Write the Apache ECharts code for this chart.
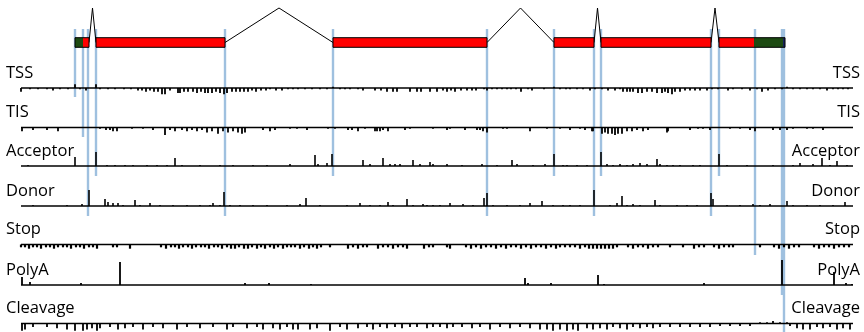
<!DOCTYPE html>
<html><head><meta charset="utf-8">
<script src="https://cdn.jsdelivr.net/npm/echarts@6/dist/echarts.min.js"></script>
<style>html,body{margin:0;padding:0;background:#fff}#c{width:864px;height:332px}</style>
</head><body><div id="c"></div>
<script>
// ---------------- DATA ----------------
const trackNames = ['TSS','TIS','Acceptor','Donor','Stop','PolyA','Cleavage'];
// gene model (genomic position units)
const exons = [[54,68],[75,204],[312,466],[533,573],[580,690],[698,764]];
const cdsRange = [62, 733];
const tailRange = [762, 764];
// predicted features: position and track
const featurePos   = [54, 62, 67, 75, 204, 312, 466, 533, 573, 580, 690, 698, 734, 761, 763];
const featureTrack = ['TSS','TIS','Donor','Acceptor','Donor','Acceptor','Donor','Acceptor','Donor','Acceptor','Donor','Acceptor','Stop','PolyA','Cleavage'];

// signal scores [position, score]
const tssSignal = [[0,-3],[9,-1],[17,-1],[26,-1],[32,-2],[39,-1],[47,-1],[54,3],[59,-1],[65,-2],[75,3],[79,-1],[87,-1],[94,-1],[103,-1],[110,-1],[117,-2],[121,-2],[125,-3],[129,-2],[133,-3],[137,-3],[141,-5],[144,-5],[149,-2],[157,-4],[159,-4],[163,-3],[167,-3],[172,-3],[176,-4],[180,-3],[184,-4],[187,-4],[191,-4],[195,-3],[199,-4],[203,-5],[206,-4],[211,-3],[215,-3],[219,-3],[223,-3],[227,-3],[231,-2],[235,-3],[240,-2],[245,-2],[249,-1],[255,-2],[261,-2],[267,-1],[272,-1],[277,-1],[284,-1],[291,-1],[299,-1],[306,-1],[312,1],[319,-1],[324,-1],[329,-1],[337,-1],[342,-2],[354,-2],[360,-2],[366,-3],[372,-3],[376,-3],[389,-3],[396,-3],[400,-3],[409,-3],[416,-3],[422,-2],[426,-3],[430,-2],[434,-3],[440,-2],[446,-2],[451,-2],[455,-2],[463,-1],[466,-2],[471,-1],[476,-1],[481,-1],[486,-1],[490,-1],[495,-1],[500,-3],[507,-1],[511,-2],[523,-1],[533,1],[539,-1],[545,-1],[549,-1],[556,-1],[562,-1],[569,-2],[574,-1],[581,-1],[587,-2],[594,-2],[599,-1],[602,-3],[606,-3],[609,-3],[612,-3],[617,-4],[621,-4],[626,-3],[631,-3],[636,-4],[641,-4],[644,-3],[647,-4],[651,-5],[654,-3],[659,-3],[664,-2],[669,-2],[674,-2],[679,-2],[686,-2],[691,-1],[697,-1],[707,-2],[712,-1],[721,-1],[729,-2],[736,-1],[741,-3],[747,-2],[754,-1],[761,-1],[766,1],[772,-1],[779,-1],[786,-1],[792,-1],[799,-1],[806,-2],[812,-1],[817,-1],[822,-1],[827,-1]];
const tisSignal = [[1,-3],[12,-2],[26,-2],[37,-3],[79,-1],[85,-2],[89,-2],[92,-3],[96,-3],[111,-1],[122,-1],[132,-2],[144,-6],[149,-2],[154,-3],[161,-2],[166,-3],[171,-2],[176,-3],[181,-2],[186,-4],[191,-3],[197,-5],[202,-3],[207,-4],[212,-3],[217,-4],[221,-5],[224,-4],[242,-2],[249,-3],[254,-2],[269,-1],[276,-1],[286,-2],[307,-1],[314,-1],[327,-2],[331,-2],[337,-3],[344,-1],[354,-3],[356,-3],[359,-3],[362,-2],[367,-3],[384,-2],[389,-1],[412,-1],[426,-2],[429,-1],[444,-2],[456,-2],[459,-2],[462,-3],[466,-4],[482,-1],[486,-1],[509,-3],[526,-1],[539,-1],[549,-2],[559,-1],[564,-2],[571,-3],[572,-3],[581,-5],[584,-4],[587,-5],[591,-5],[594,-6],[597,-5],[601,-5],[606,-3],[611,-3],[616,-2],[622,-3],[627,-2],[646,-4],[647,-3],[669,-2],[677,-1],[682,-1],[689,-2],[709,-1],[719,-1],[729,-2],[734,-3],[752,-2],[759,-2],[766,-2],[772,-1],[786,-1],[792,-1],[802,-2]];
const acceptorSignal = [[7,1],[54,9],[75,14],[86,1],[94,1],[104,1],[112,1],[126,1],[136,1],[146,1],[154,8],[161,1],[179,1],[199,1],[212,1],[232,1],[246,1],[269,2],[294,11],[297,2],[306,3],[311,12],[342,6],[349,2],[362,8],[369,2],[374,2],[379,2],[392,6],[399,2],[409,4],[412,2],[426,2],[441,1],[461,2],[476,1],[491,6],[496,2],[512,1],[524,2],[533,12],[542,1],[546,1],[556,1],[566,1],[580,14],[586,2],[592,1],[599,2],[606,1],[612,2],[619,3],[626,2],[636,7],[639,2],[646,1],[652,1],[659,1],[672,1],[679,1],[698,12],[706,1],[726,1],[752,1],[772,1],[779,3],[792,2],[801,8],[809,1],[816,5],[826,1]];
const donorSignal = [[12,1],[46,1],[61,2],[68,16],[84,7],[87,4],[92,3],[97,3],[102,1],[114,6],[119,1],[129,3],[139,1],[152,1],[166,1],[179,1],[189,1],[192,3],[199,1],[203,14],[209,1],[219,1],[232,1],[246,1],[266,1],[279,2],[285,8],[299,1],[326,1],[339,3],[349,1],[359,1],[367,4],[372,1],[386,7],[392,1],[402,2],[406,1],[412,1],[419,1],[429,3],[442,2],[452,1],[463,8],[466,13],[472,1],[486,1],[499,1],[509,3],[521,5],[532,1],[542,1],[549,1],[559,1],[573,16],[589,1],[596,3],[601,10],[606,1],[612,2],[619,1],[634,6],[639,1],[656,1],[666,1],[676,1],[690,13],[692,7],[706,1],[719,1],[732,2],[739,1],[749,2],[766,5],[772,1],[786,1],[799,1],[812,1],[824,4]];
const stopSignal = [[0,-2],[4,-2],[8,-3],[12,-2],[16,-2],[20,-3],[25,-2],[29,-2],[33,-3],[37,-2],[42,-2],[46,-2],[50,-3],[55,-2],[59,-2],[63,-3],[68,-2],[72,-2],[76,-3],[92,-2],[96,-2],[109,-3],[140,-2],[145,-3],[150,-2],[154,-2],[158,-3],[162,-2],[167,-2],[171,-3],[175,-2],[180,-2],[184,-2],[188,-3],[193,-2],[197,-2],[201,-3],[206,-2],[210,-3],[214,-3],[218,-2],[223,-3],[227,-3],[231,-2],[236,-3],[240,-2],[244,-3],[249,-2],[253,-3],[257,-2],[262,-3],[266,-2],[270,-2],[274,-2],[279,-3],[283,-2],[288,-3],[292,-2],[296,-3],[300,-2],[309,-2],[327,-3],[332,-2],[337,-3],[342,-2],[346,-2],[357,-3],[362,-2],[367,-2],[372,-3],[377,-2],[382,-2],[386,-3],[403,-3],[408,-2],[412,-2],[426,-2],[429,-3],[445,-2],[450,-3],[455,-2],[460,-3],[465,-2],[470,-2],[475,-3],[480,-2],[485,-3],[490,-2],[495,-2],[500,-3],[505,-2],[510,-3],[515,-2],[520,-2],[525,-3],[530,-2],[535,-3],[539,-2],[544,-2],[549,-2],[554,-2],[559,-3],[564,-2],[568,-3],[572,-3],[576,-3],[580,-3],[584,-3],[588,-3],[592,-3],[596,-2],[607,-2],[612,-3],[617,-2],[622,-2],[627,-3],[632,-2],[637,-2],[649,-2],[662,-2],[673,-3],[678,-2],[683,-2],[693,-2],[698,-3],[703,-2],[708,-2],[712,-2],[739,-2],[753,-2],[758,-3],[763,-2],[768,-3],[773,-2],[778,-2],[793,-2],[798,-3],[803,-2],[808,-2],[813,-3],[818,-2],[823,-2],[828,-2]];
const polyASignal = [[1,8],[9,3],[60,2],[99,23],[224,2],[248,2],[290,1],[504,7],[507,2],[530,2],[577,10],[583,1],[683,2],[761,25],[813,13],[825,2],[831,1]];
const cleavageSignal = [[1,-6],[4,-5],[12,-3],[26,-3],[36,-4],[46,-5],[54,-6],[62,-6],[66,-5],[71,-4],[76,-6],[79,-4],[89,-3],[97,-5],[104,-4],[112,-3],[122,-5],[132,-3],[142,-4],[156,-5],[166,-3],[179,-4],[192,-3],[206,-5],[212,-3],[226,-4],[236,-3],[242,-5],[252,-4],[259,-5],[266,-3],[272,-5],[277,-5],[289,-5],[296,-4],[309,-6],[319,-3],[326,-5],[337,-4],[346,-3],[352,-5],[359,-3],[366,-4],[374,-3],[381,-4],[389,-3],[396,-3],[406,-4],[412,-3],[419,-3],[426,-4],[432,-3],[441,-3],[451,-4],[459,-3],[469,-5],[479,-3],[489,-4],[499,-3],[509,-4],[519,-5],[526,-5],[532,-6],[539,-5],[546,-6],[552,-5],[557,-6],[566,-4],[572,-5],[579,-4],[586,-5],[592,-3],[599,-4],[606,-5],[612,-3],[619,-4],[626,-3],[632,-4],[639,-3],[649,-3],[659,-3],[669,-3],[679,-3],[689,-3],[699,-2],[709,-2],[719,-2],[729,-2],[739,1],[746,1],[752,2],[759,1],[766,1],[769,-2],[776,-4],[782,-5],[789,-5],[796,-3],[802,-4],[809,-3],[816,-5],[822,-4],[829,-5]];

const signals = [tssSignal, tisSignal, acceptorSignal, donorSignal, stopSignal, polyASignal, cleavageSignal];

// ---------------- LAYOUT / STYLE ----------------
const X_MAX = 832;
const TRACK_BASE = [88, 127.5, 166, 206, 244.5, 285, 323.5];
const TRACK_SCALE = [1.25, 1.25, 1, 1, 1.4, 1, 1.2];   // score -> layout height
const SPIKE_W = [1.8, 1.8, 1.6, 1.6, 2.2, 1.8, 1.8];
const GENE_TOP = 37.7, GENE_BOTTOM = 47.3, INTRON_PEAK = 8, FEATURE_TOP = 29;
const FEATURE_TAIL = [9, 9.5, 10, 10, 10.5, 10, 9];
const COL_CDS = '#ff0000', COL_UTR = '#1d4a12', COL_TAIL = '#15225e', COL_FEAT = '#9fc0df';

// exon parts split by coding range / tail
const exonParts = [];
exons.forEach(([a, b]) => {
  const cuts = [a, b];
  [cdsRange[0], cdsRange[1], tailRange[0]].forEach(c => { if (c > a && c < b) cuts.push(c); });
  cuts.sort((p, q) => p - q);
  for (let i = 0; i < cuts.length - 1; i++) {
    const m = (cuts[i] + cuts[i + 1]) / 2;
    const t = m >= tailRange[0] ? 2 : (m < cdsRange[0] || m > cdsRange[1]) ? 1 : 0;
    exonParts.push([cuts[i], cuts[i + 1], t]);
  }
});
const introns = [];
for (let i = 0; i < exons.length - 1; i++) introns.push([exons[i][1], exons[i + 1][0]]);

const featureData = featurePos.map((p, i) => [p, trackNames.indexOf(featureTrack[i])]);

const chart = echarts.init(document.getElementById('c'), null, {renderer: 'canvas'});

function spikeSeries(k) {
  return {
    type: 'custom', z: 3, data: signals[k],
    renderItem: (params, api) => {
      const p = api.value(0), v = api.value(1);
      const x = api.coord([p, 0])[0];
      const y0 = api.coord([0, TRACK_BASE[k]])[1];
      const y1 = api.coord([0, TRACK_BASE[k] - v * TRACK_SCALE[k]])[1];
      const w = SPIKE_W[k];
      return {type: 'rect', shape: {x: x - w / 2, y: Math.min(y0, y1), width: w, height: Math.abs(y1 - y0)}, style: {fill: '#000'}};
    }
  };
}
function baselineSeries(k) {
  return {
    type: 'line', z: 3, symbol: 'none', silent: true,
    data: [[0, TRACK_BASE[k]], [X_MAX, TRACK_BASE[k]]],
    lineStyle: {color: '#000', width: 1.5}
  };
}

const series = [];
// feature lines
series.push({
  type: 'custom', z: 1, data: featureData,
  renderItem: (params, api) => {
    const p = api.value(0), k = api.value(1);
    const x = api.coord([p, 0])[0];
    const yt = api.coord([0, FEATURE_TOP])[1];
    const yb = api.coord([0, TRACK_BASE[k] + FEATURE_TAIL[k]])[1];
    return {type: 'line', shape: {x1: x, y1: yt, x2: x, y2: yb}, style: {stroke: COL_FEAT, lineWidth: 2.4}};
  }
});
// introns
series.push({
  type: 'custom', z: 2, data: introns,
  renderItem: (params, api) => {
    const a = api.value(0), b = api.value(1);
    const mid = (GENE_TOP + GENE_BOTTOM) / 2;
    const p1 = api.coord([a, mid]), p2 = api.coord([(a + b) / 2, INTRON_PEAK]), p3 = api.coord([b, mid]);
    return {type: 'polyline', shape: {points: [p1, p2, p3]}, style: {stroke: '#000', lineWidth: 1, fill: null}};
  }
});
// exon parts
series.push({
  type: 'custom', z: 2, data: exonParts,
  renderItem: (params, api) => {
    const a = api.value(0), b = api.value(1), t = api.value(2);
    const p1 = api.coord([a, GENE_TOP]), p2 = api.coord([b, GENE_BOTTOM]);
    return {type: 'rect', shape: {x: p1[0], y: p1[1], width: p2[0] - p1[0], height: p2[1] - p1[1]},
      style: {fill: [COL_CDS, COL_UTR, COL_TAIL][t]}};
  }
});
// exon outlines
series.push({
  type: 'custom', z: 2, data: exons,
  renderItem: (params, api) => {
    const a = api.value(0), b = api.value(1);
    const p1 = api.coord([a, GENE_TOP]), p2 = api.coord([b, GENE_BOTTOM]);
    return {type: 'rect', z2: 5, shape: {x: p1[0], y: p1[1], width: p2[0] - p1[0], height: p2[1] - p1[1]},
      style: {fill: null, stroke: '#000', lineWidth: 1}};
  }
});
for (let k = 0; k < trackNames.length; k++) { series.push(baselineSeries(k)); series.push(spikeSeries(k)); }

// labels
const graphics = [];
const LABEL_FONT = '16.5px "Open Sans", sans-serif';
trackNames.forEach((name, k) => {
  const yMid = TRACK_BASE[k] - 15;
  graphics.push({type: 'text', x: 6, y: yMid, style: {text: name, font: LABEL_FONT, fill: '#000', textAlign: 'left', textVerticalAlign: 'middle'}});
  graphics.push({type: 'text', x: 860, y: yMid, style: {text: name, font: LABEL_FONT, fill: '#000', textAlign: 'right', textVerticalAlign: 'middle'}});
});

chart.setOption({
  animation: false,
  backgroundColor: '#fff',
  grid: {left: 21, right: 11, top: 0, bottom: 0},
  xAxis: {type: 'value', min: 0, max: X_MAX, show: false},
  yAxis: {type: 'value', min: 0, max: 332, inverse: true, show: false},
  series: series,
  graphic: graphics
});
</script></body></html>
